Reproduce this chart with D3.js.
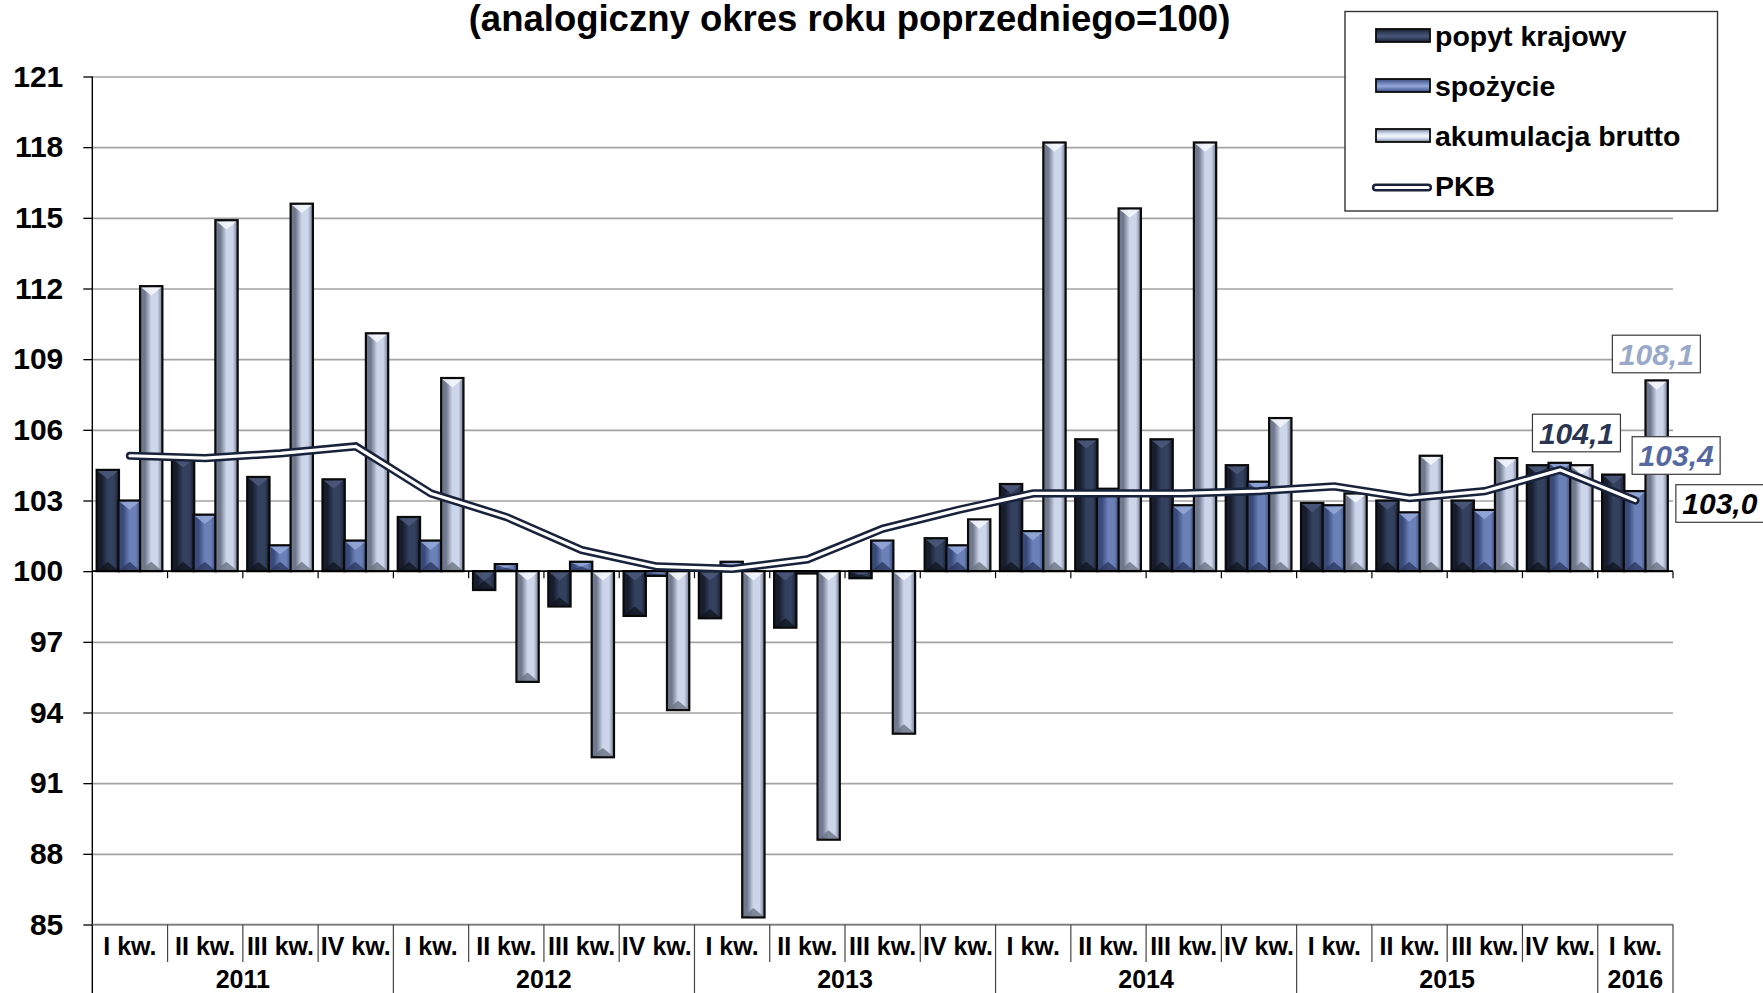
<!DOCTYPE html>
<html>
<head>
<meta charset="utf-8">
<script src="https://cdn.jsdelivr.net/npm/d3@7"></script>
<style>
html,body{margin:0;padding:0;background:#fff;}
svg{display:block;}
text{font-family:"Liberation Sans",Arial,sans-serif;font-weight:bold;}
</style>
</head>
<body>
<svg id="chart" width="1763" height="993"></svg>
<script>
// ---------------- DATA ----------------
const quarters = ["I kw.","II kw.","III kw.","IV kw.",
                  "I kw.","II kw.","III kw.","IV kw.",
                  "I kw.","II kw.","III kw.","IV kw.",
                  "I kw.","II kw.","III kw.","IV kw.",
                  "I kw.","II kw.","III kw.","IV kw.",
                  "I kw."];
const years = ["2011","2012","2013","2014","2015","2016"];
const yearSpans = [4,4,4,4,4,1];
const seriesNames = ["popyt krajowy","spożycie","akumulacja brutto"];
const lineName = "PKB";
const popyt    = [104.3,104.8,104.0,103.9,102.3, 99.2, 98.5, 98.1, 98.0, 97.6, 99.7,101.4,103.7,105.6,105.6,104.5,102.9,103.0,103.0,104.5,104.1];
const spozycie = [103.0,102.4,101.1,101.3,101.3,100.3,100.4, 99.8,100.4, 99.9,101.3,101.1,101.7,103.5,102.8,103.8,102.8,102.5,102.6,104.6,103.4];
const akumulacja=[112.1,114.9,115.6,110.1,108.2, 95.3, 92.1, 94.1, 85.3, 88.6, 93.1,102.2,118.2,115.4,118.2,106.5,103.3,104.9,104.8,104.5,108.1];
const pkb      = [104.9,104.8,105.0,105.3,103.3,102.3,100.9,100.2,100.1,100.5,101.8,102.6,103.3,103.3,103.3,103.4,103.6,103.1,103.4,104.3,103.0];
const yTicks = [85,88,91,94,97,100,103,106,109,112,115,118,121];
const titleText = "(analogiczny okres roku poprzedniego=100)";
const labelTexts = ["104,1","103,4","108,1","103,0"];

// ---------------- LAYOUT ----------------
const svg = d3.select("#chart");
const pL = 92.3, pR = 1673, pT = 76.5, pB = 924.5;
const idx = d3.range(quarters.length);
const x = d3.scaleBand().domain(idx).range([pL, pR]).paddingInner(0).paddingOuter(0);
const gw = x.bandwidth();
const inner = d3.scaleBand().domain([0,1,2]).range([gw*0.058, gw*0.923]);
const y = d3.scaleLinear().domain([85,121]).range([pB, pT]);
const series = [popyt, spozycie, akumulacja];

const styles = [
  {edge:"#171d2d", mid:"#33405e", topT:"#4b5879", botT:"#10151f"},
  {edge:"#394a7a", mid:"#6a80b7", topT:"#93a7d8", botT:"#2c3a62"},
  {edge:"#6f788c", mid:"#ccd5ea", topT:"#f4f7fc", botT:"#6c7484"}
];

const defs = svg.append("defs");
styles.forEach((s,i)=>{
  const g = defs.append("linearGradient").attr("id","gh"+i).attr("x1","0").attr("x2","1").attr("y1","0").attr("y2","0");
  g.append("stop").attr("offset","0%").attr("stop-color",s.edge);
  g.append("stop").attr("offset","22%").attr("stop-color",s.edge);
  g.append("stop").attr("offset","50%").attr("stop-color",s.mid);
  g.append("stop").attr("offset","78%").attr("stop-color",s.mid);
  g.append("stop").attr("offset","100%").attr("stop-color",s.edge);
  const v = defs.append("linearGradient").attr("id","gv"+i).attr("x1","0").attr("x2","0").attr("y1","0").attr("y2","1");
  v.append("stop").attr("offset","0%").attr("stop-color",s.edge);
  v.append("stop").attr("offset","30%").attr("stop-color",s.mid);
  v.append("stop").attr("offset","55%").attr("stop-color",s.topT);
  v.append("stop").attr("offset","75%").attr("stop-color",s.mid);
  v.append("stop").attr("offset","100%").attr("stop-color",s.edge);
});

// gridlines
svg.append("g").attr("class","grid")
  .attr("transform",`translate(${pL},0)`)
  .call(d3.axisLeft(y).tickValues(yTicks.filter(t=>t!==100)).tickSize(-(pR-pL)).tickFormat(""))
  .call(g=>g.select(".domain").remove())
  .call(g=>g.selectAll("line").attr("stroke","#a3a3a3").attr("stroke-width",1.6));

// y axis
const yAxis = svg.append("g").attr("transform",`translate(${pL},0)`)
  .call(d3.axisLeft(y).tickValues(yTicks).tickSize(9).tickPadding(20).tickFormat(d=>d));
yAxis.select(".domain").remove();
yAxis.selectAll("line").attr("stroke","#000").attr("stroke-width",1.3);
yAxis.selectAll("text").attr("font-size",30).attr("fill","#000")
  .attr("font-family",'"Liberation Sans",Arial,sans-serif').attr("font-weight","bold");
svg.append("line").attr("x1",pL).attr("x2",pL).attr("y1",pT).attr("y2",993)
  .attr("stroke","#000").attr("stroke-width",1.4);

// bottom category table
svg.append("line").attr("x1",pL).attr("x2",pR).attr("y1",y(85)).attr("y2",y(85))
  .attr("stroke","#7a7a7a").attr("stroke-width",1.4);
const bounds = d3.range(1, quarters.length+1);
let cum = 0; const yearBounds = new Set();
yearSpans.forEach(s=>{cum+=s; yearBounds.add(cum);});
bounds.forEach(b=>{
  const xb = b < quarters.length ? x(b) : pR;
  svg.append("line").attr("x1",xb).attr("x2",xb).attr("y1",y(85)).attr("y2", yearBounds.has(b)?993:962)
    .attr("stroke","#444").attr("stroke-width",1.2);
});
const xAxis = svg.append("g").attr("transform",`translate(0,${y(85)})`)
  .call(d3.axisBottom(x).tickSize(0).tickPadding(13).tickFormat(i=>quarters[i]));
xAxis.select(".domain").remove();
xAxis.selectAll("text").attr("font-size",25).attr("fill","#000")
  .attr("font-family",'"Liberation Sans",Arial,sans-serif').attr("font-weight","bold");
cum = 0;
years.forEach((yr,i)=>{
  const x0 = x(cum), x1 = cum+yearSpans[i] < quarters.length ? x(cum+yearSpans[i]) : pR;
  svg.append("text").attr("x",(x0+x1)/2).attr("y",988).attr("text-anchor","middle")
    .attr("font-size",25).attr("fill","#000").text(yr);
  cum += yearSpans[i];
});

// bars
const barsG = svg.append("g");
idx.forEach(i=>{
  series.forEach((arr,s)=>{
    const v = arr[i];
    const bx = x(i) + inner(s);
    const bw = inner.bandwidth() + 0.6;
    const y0 = Math.min(y(v), y(100)), y1 = Math.max(y(v), y(100));
    const h = y1 - y0;
    const g = barsG.append("g");
    g.append("rect").attr("x",bx).attr("y",y0).attr("width",bw).attr("height",h).attr("fill",`url(#gh${s})`);
    const th = Math.min(bw*0.42, h/2);
    if (h > 1) {
      g.append("path").attr("d",`M${bx+1},${y0+1}L${bx+bw-1},${y0+1}L${bx+bw/2},${y0+th}Z`).attr("fill",styles[s].topT).attr("opacity",0.9);
      g.append("path").attr("d",`M${bx+1},${y1-1}L${bx+bw-1},${y1-1}L${bx+bw/2},${y1-th}Z`).attr("fill",styles[s].botT).attr("opacity",0.8);
    }
    g.append("rect").attr("x",bx).attr("y",y0).attr("width",bw).attr("height",h)
      .attr("fill","none").attr("stroke","#0a0a0a").attr("stroke-width",2.2);
  });
});

// 100 baseline axis with ticks
svg.append("line").attr("x1",pL).attr("x2",pR).attr("y1",y(100)).attr("y2",y(100))
  .attr("stroke","#000").attr("stroke-width",1.6);
bounds.forEach(b=>{
  const xb = b < quarters.length ? x(b) : pR;
  svg.append("line").attr("x1",xb).attr("x2",xb).attr("y1",y(100)).attr("y2",y(100)+7)
    .attr("stroke","#000").attr("stroke-width",1.2);
});

// PKB line (double line)
const line = d3.line().x((d,i)=>x(i)+gw/2).y(d=>y(d));
svg.append("path").datum(pkb).attr("d",line).attr("fill","none")
  .attr("stroke","#18223a").attr("stroke-width",8.2).attr("stroke-linecap","round").attr("stroke-linejoin","miter");
svg.append("path").datum(pkb).attr("d",line).attr("fill","none")
  .attr("stroke","#ffffff").attr("stroke-width",3.2).attr("stroke-linecap","round").attr("stroke-linejoin","miter");

// data labels for last quarter
const last = quarters.length-1;
const lab = [
  {s:0, dx:-36.5, cy:433,  color:"#2a3552"},
  {s:1, dx:41.5,  cy:455.5,color:"#5569a0"},
  {s:2, dx:0,     cy:354,  color:"#9aa9c9"},
  {s:3, dx:84.5,  cy:503.5,color:"#000"}
];
lab.forEach((L,k)=>{
  const bxC = L.s<3 ? x(last)+inner(L.s)+inner.bandwidth()/2 : x(last)+gw/2;
  const cx = bxC + L.dx;
  const g = svg.append("g");
  g.append("rect").attr("x",cx-44).attr("y",L.cy-18.8).attr("width",88).attr("height",37.6)
    .attr("fill","#fff").attr("stroke","#3a3a3a").attr("stroke-width",1.2);
  g.append("text").attr("x",cx).attr("y",L.cy+10.5).attr("text-anchor","middle")
    .attr("font-size",30).attr("font-style","italic").attr("fill",L.color).text(labelTexts[k]);
});

// title
svg.append("text").attr("x",849.5).attr("y",31).attr("text-anchor","middle")
  .attr("font-size",36.5).attr("fill","#000").text(titleText);

// legend
const lg = svg.append("g");
lg.append("rect").attr("x",1345).attr("y",11.5).attr("width",372.5).attr("height",199.5)
  .attr("fill","#fff").attr("stroke","#333").attr("stroke-width",1.4);
seriesNames.forEach((n,s)=>{
  const by = 46 + s*50;
  lg.append("rect").attr("x",1376).attr("y",by-17).attr("width",54).attr("height",13)
    .attr("fill",`url(#gv${s})`).attr("stroke","#0a0a0a").attr("stroke-width",1.8);
  lg.append("text").attr("x",1435).attr("y",by).attr("font-size",28.5).attr("fill","#000").text(n);
});
{
  const by = 196;
  lg.append("line").attr("x1",1376).attr("x2",1428).attr("y1",by-8.5).attr("y2",by-8.5)
    .attr("stroke","#18223a").attr("stroke-width",8.2).attr("stroke-linecap","round");
  lg.append("line").attr("x1",1376).attr("x2",1428).attr("y1",by-8.5).attr("y2",by-8.5)
    .attr("stroke","#fff").attr("stroke-width",3.2).attr("stroke-linecap","round");
  lg.append("text").attr("x",1435).attr("y",by).attr("font-size",28.5).attr("fill","#000").text(lineName);
}
</script>
</body>
</html>
